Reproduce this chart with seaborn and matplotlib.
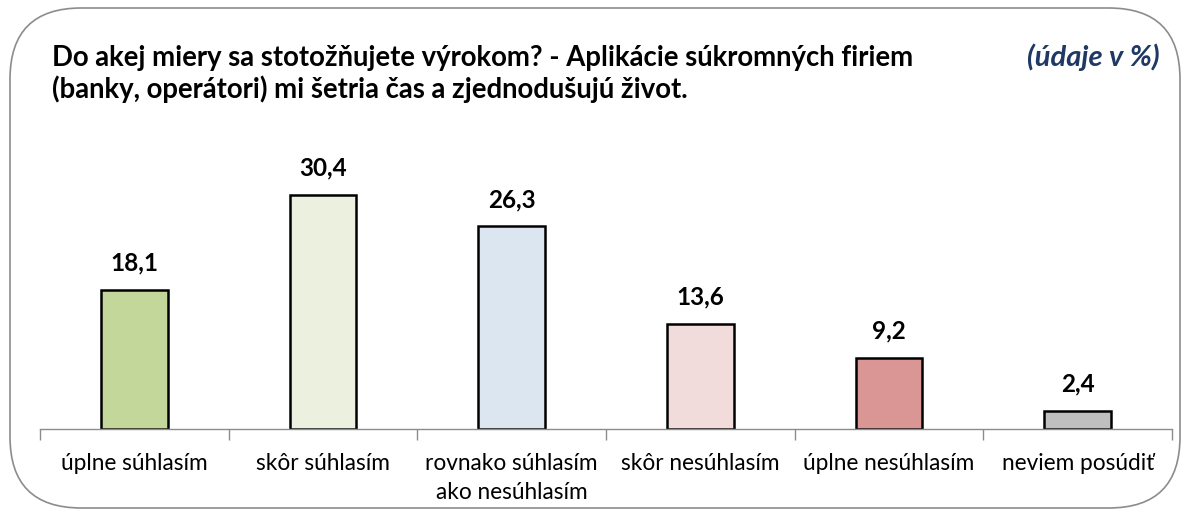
import matplotlib
matplotlib.use("Agg")
import matplotlib.pyplot as plt
from matplotlib.patches import FancyBboxPatch
from matplotlib.ticker import FixedLocator
import seaborn as sns
import pandas as pd

categories = ["úplne súhlasím", "skôr súhlasím", "rovnako súhlasím\nako nesúhlasím",
              "skôr nesúhlasím", "úplne nesúhlasím", "neviem posúdiť"]
values = [18.1, 30.4, 26.3, 13.6, 9.2, 2.4]
value_labels = ["18,1", "30,4", "26,3", "13,6", "9,2", "2,4"]
bar_colors = ["#C4D79B", "#EBF1DE", "#DCE6F1", "#F2DCDB", "#DA9694", "#BFBFBF"]

title = ("Do akej miery sa stotožňujete výrokom? - Aplikácie súkromných firiem\n"
         "(banky, operátori) mi šetria čas a zjednodušujú život.")
unit_note = "(údaje v %)"

sns.set_theme(style="white")
plt.rcParams["font.family"] = ["Lato", "DejaVu Sans"]

df = pd.DataFrame({"kategoria": categories, "hodnota": values})

fig = plt.figure(figsize=(11.87, 5.18), dpi=100)

# rounded frame around the whole chart, drawn behind the axes
frame = FancyBboxPatch((10 / 1187, 10 / 518), 1170 / 1187, 500 / 518,
                       boxstyle="round,pad=0,rounding_size=0.06",
                       transform=fig.transFigure, facecolor="white",
                       edgecolor="#8C8C8C", linewidth=1.2,
                       mutation_aspect=1187 / 518, zorder=-5)
fig.patches.append(frame)

ax = fig.add_axes([40 / 1187, 89 / 518, 1132 / 1187, 269.5 / 518])
ax.set_facecolor("none")
ax.set_zorder(2)

sns.barplot(data=df, x="kategoria", y="hodnota", hue="kategoria",
            palette=bar_colors, legend=False, width=0.355,
            edgecolor="black", linewidth=1.8, ax=ax, saturation=1)

for i, (v, lab) in enumerate(zip(values, value_labels)):
    ax.text(i, v + 2.0, lab, ha="center", va="bottom", fontsize=17.5,
            fontweight="bold", color="black")

ax.set_xlim(-0.5, len(categories) - 0.5)
ax.set_ylim(0, 35)
ax.set_xlabel("")
ax.set_ylabel("")
ax.set_yticks([])
for side in ["top", "right", "left"]:
    ax.spines[side].set_visible(False)
ax.spines["bottom"].set_color("#8C8C8C")
ax.spines["bottom"].set_linewidth(1.0)

ax.set_xticks(range(len(categories)))
ax.set_xticklabels(categories, fontsize=16.3, color="black", linespacing=1.5)
ax.tick_params(axis="x", which="major", length=0, pad=17)
ax.xaxis.set_minor_locator(FixedLocator([i - 0.5 for i in range(len(categories) + 1)]))
ax.tick_params(axis="x", which="minor", length=8, width=1.0, color="#8C8C8C",
               direction="out", bottom=True)

fig.text(52 / 1187, 1 - 45 / 518, title, ha="left", va="top", fontsize=19.8,
         fontweight="bold", color="black", linespacing=1.2)
fig.text(1160 / 1187, 1 - 57 / 518, unit_note, ha="right", va="center",
         fontsize=21, fontweight="bold", fontstyle="italic", color="#1F3864")

fig.savefig("out.png", dpi=100)
